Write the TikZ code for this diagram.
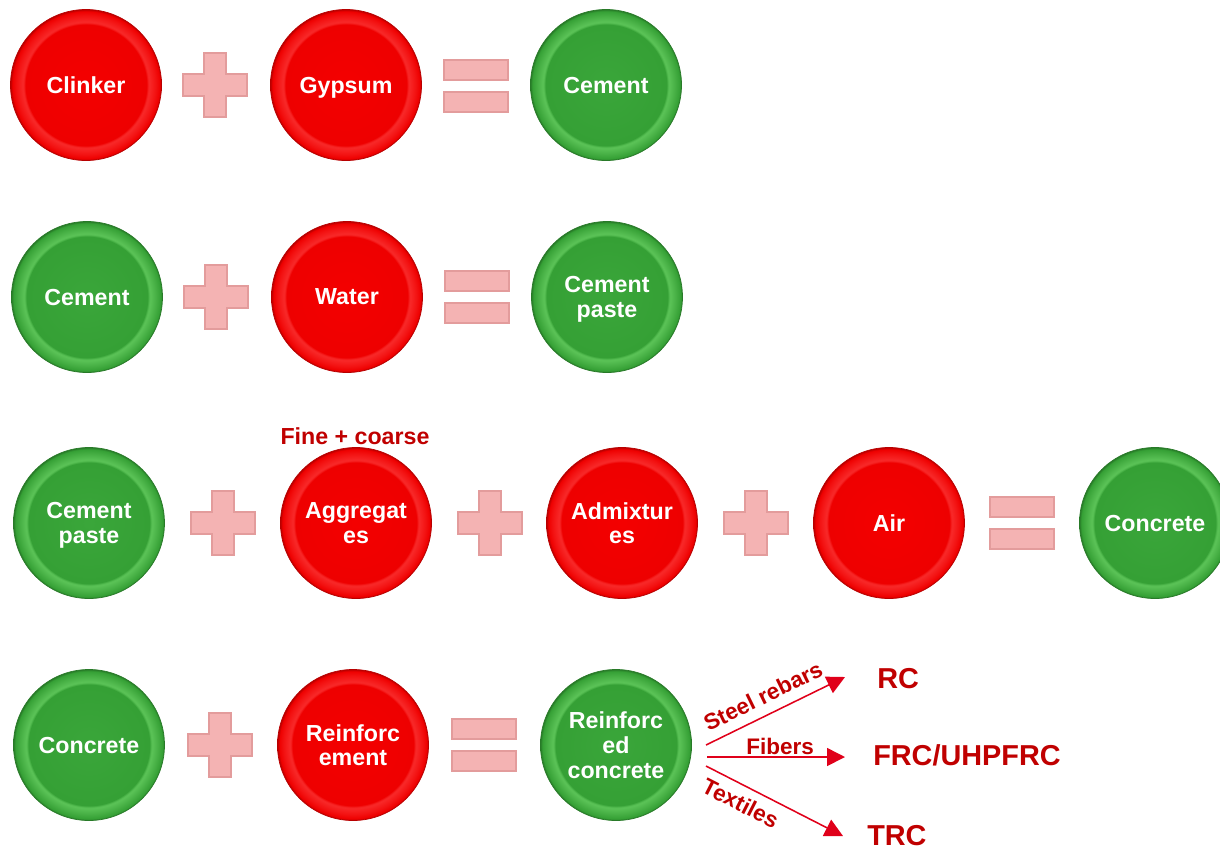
\documentclass[tikz,border=0pt]{standalone}
\usepackage{fontspec}
\setmainfont{Liberation Sans}
\usetikzlibrary{arrows.meta}
\definecolor{rcenter}{HTML}{F40000}
\definecolor{rbody}{HTML}{EE0000}
\definecolor{rlight}{HTML}{F82A2A}
\definecolor{rring}{HTML}{F31212}
\definecolor{redge}{HTML}{B80000}
\definecolor{gcenter}{HTML}{3AA63A}
\definecolor{gbody}{HTML}{35A035}
\definecolor{glight}{HTML}{5CC458}
\definecolor{gring}{HTML}{45AE43}
\definecolor{gedge}{HTML}{287A28}
\definecolor{signfill}{HTML}{F4B3B3}
\definecolor{signline}{HTML}{E39C9C}
\definecolor{labelred}{HTML}{C00000}
\definecolor{arrowred}{HTML}{E0001A}
\pgfdeclareradialshading{redshade}{\pgfpointorigin}{color(0bp)=(rcenter); color(20bp)=(rbody); color(20.8bp)=(rlight); color(23bp)=(rring); color(24.4bp)=(rbody); color(25bp)=(redge); color(50bp)=(redge)}
\pgfdeclareradialshading{greenshade}{\pgfpointorigin}{color(0bp)=(gcenter); color(20bp)=(gbody); color(20.8bp)=(glight); color(23bp)=(gring); color(24.4bp)=(gbody); color(25bp)=(gedge); color(50bp)=(gedge)}
\tikzset{
  button/.style = {circle, minimum size=3.775cm, inner sep=0pt, align=center,
    text depth=0pt, text=white, font=\bfseries\fontsize{16.5}{17.5}\selectfont},
  redbutton/.style = {button, shading=redshade, draw=redge, line width=0.5pt},
  greenbutton/.style = {button, shading=greenshade, draw=gedge, line width=0.5pt},
  signstyle/.style = {fill=signfill, draw=signline, line width=0.8pt},
  plus sign/.pic = {
    \draw[signstyle] (-32,-11) -- (-11,-11) -- (-11,-32) -- (11,-32) -- (11,-11)
      -- (32,-11) -- (32,11) -- (11,11) -- (11,32) -- (-11,32) -- (-11,11)
      -- (-32,11) -- cycle;
  },
  equal sign/.pic = {
    \draw[signstyle] (-32,-26) rectangle (32,-6);
    \draw[signstyle] (-32,6) rectangle (32,26);
  },
  fanarrow/.style = {arrowred, line width=1.1pt, -{Triangle[length=0.45cm,width=0.45cm]}},
  fanlabel/.style = {text=labelred, font=\bfseries\fontsize{16}{17}\selectfont, inner sep=1pt},
  product/.style = {text=labelred, font=\bfseries\fontsize{20.5}{22}\selectfont, inner sep=0pt, anchor=west}
}

\begin{document}
\begin{tikzpicture}[x=0.025cm,y=-0.025cm]
  \useasboundingbox (0,0) rectangle (1220,850);
  % row 1
  \node[redbutton] (clinker) at (86,85) {Clinker};
  \pic at (215,85) {plus sign};
  \node[redbutton] (gypsum) at (346,85) {Gypsum};
  \pic at (476,86) {equal sign};
  \node[greenbutton] (cement) at (606,85) {Cement};
  % row 2
  \node[greenbutton] (cement2) at (87,297) {Cement};
  \pic at (216,297) {plus sign};
  \node[redbutton] (water) at (347,297) {Water};
  \pic at (477,297) {equal sign};
  \node[greenbutton] (paste) at (607,297) {Cement\\paste};
  % row 3
  \node[greenbutton] (paste2) at (89,523) {Cement\\paste};
  \pic at (223,523) {plus sign};
  \node[redbutton] (aggr) at (356,523) {Aggregat\\es};
  \node[text=labelred, font=\bfseries\fontsize{16.5}{18}\selectfont] (finecoarse) at (355,436) {Fine + coarse};
  \pic at (490,523) {plus sign};
  \node[redbutton] (admix) at (622,523) {Admixtur\\es};
  \pic at (756,523) {plus sign};
  \node[redbutton] (air) at (889,523) {Air};
  \pic at (1022,523) {equal sign};
  \node[greenbutton] (concrete) at (1155,523) {Concrete};
  % row 4
  \node[greenbutton] (concrete2) at (89,745) {Concrete};
  \pic at (220,745) {plus sign};
  \node[redbutton] (reinf) at (353,745) {Reinforc\\ement};
  \pic at (484,745) {equal sign};
  \node[greenbutton] (reinfconc) at (616,745) {Reinforc\\ed\\concrete};
  % products
  \node[product] (rc) at (877,679) {RC};
  \node[product] (frc) at (873,755) {FRC/UHPFRC};
  \node[product] (trc) at (867,836) {TRC};
  \coordinate (s1) at (706,745);
  \coordinate (s2) at (707,757);
  \coordinate (s3) at (706,766);
  \coordinate (t1) at (845,677);
  \coordinate (t2) at (845,757);
  \coordinate (t3) at (843,836);
  \draw[fanarrow] (s1) -- (t1) node[fanlabel, pos=0.47, above=6pt, sloped] {Steel rebars};
  \draw[fanarrow] (s2) -- (t2) node[fanlabel, pos=0.53, above] {Fibers};
  \draw[fanarrow] (s3) -- (t3) node[fanlabel, pos=0.31, below=5pt, sloped] {Textiles};
\end{tikzpicture}
\end{document}
